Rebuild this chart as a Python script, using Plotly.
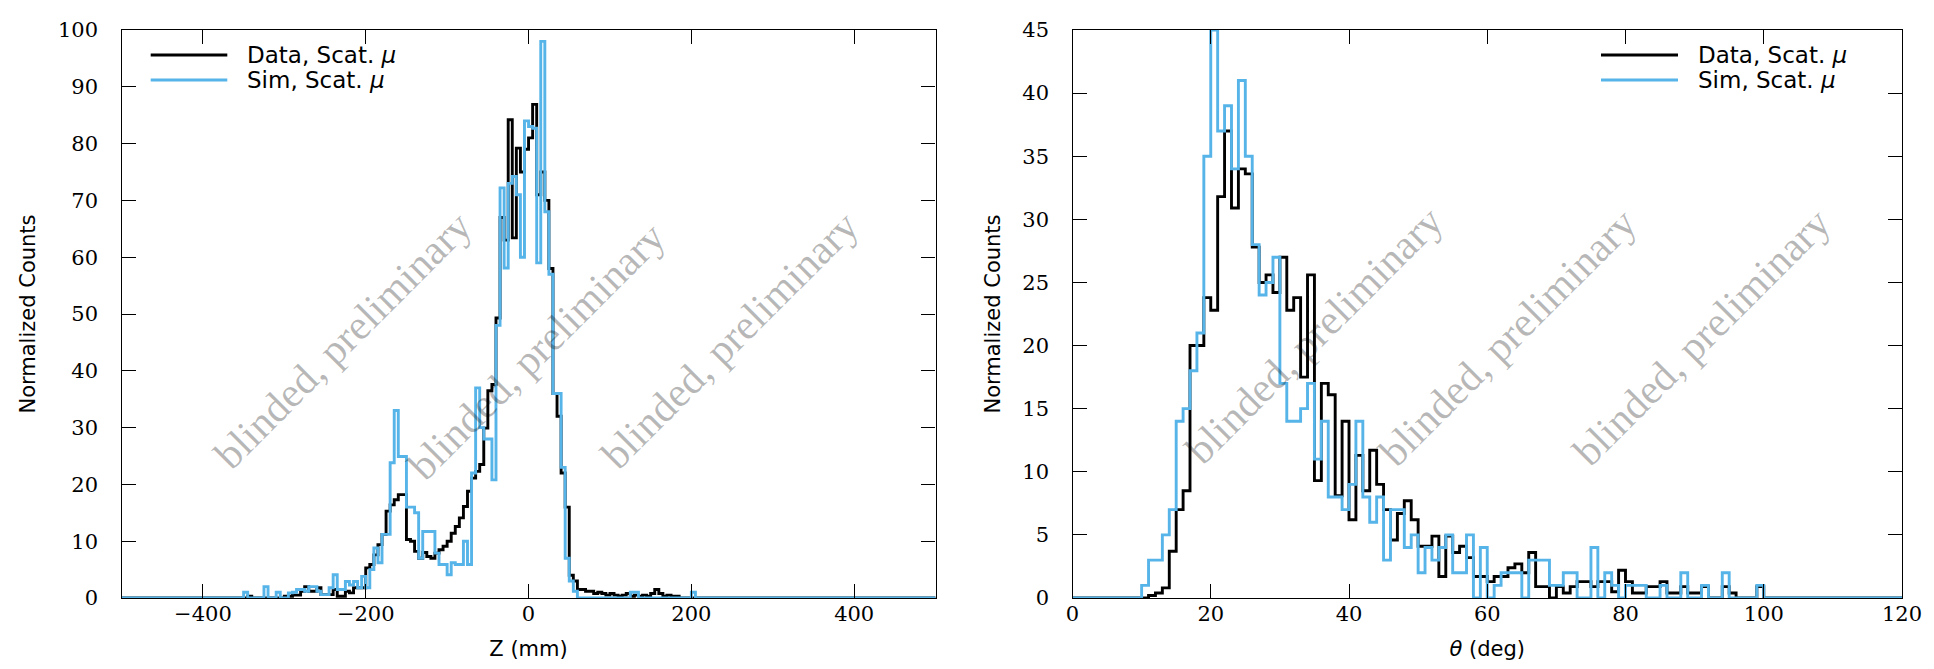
import numpy as np
import plotly.graph_objects as go

# ---------------- data: Z histogram (5 mm bins from -500 to 500) ----------------
Z_LO, Z_HI, Z_BIN = -500, 500, 5
z_first_edge = -350          # lower edge of first listed bin
z_data = [0, 0.3, 0, 0, 0, 0, 0, 0, 0, 0,
          0.3, 0.3, 0.5, 0.5, 1.2, 2.0, 1.2, 1.2, 1.8, 0.6,
          0.6, 0.6, 1.5, 0.3, 0.3, 1.2, 0.9, 1.8, 1.8, 1.8,
          5.3, 5.9, 7.6, 9.4, 11.2, 15.3, 16.4, 17.3, 18.2, 18.2,
          10.3, 10.0, 8.2, 7.0, 8.0, 7.3, 7.0, 7.9, 8.5, 9.1,
          10.0, 11.4, 12.6, 14.1, 16.1, 18.8, 21.1, 22.3, 23.5, 29.9,
          36.5, 37.6, 49.3, 67, 63, 84.2, 63.4, 79.2, 75, 79,
          81, 86.9, 71, 75, 70, 58, 36, 32, 22, 16,
          4, 3, 1.5, 1.5, 1.2, 1.2, 0.8, 1.0, 0.8, 0.5,
          0.8, 0.5, 0.3, 0.5, 0.8, 0.3, 0.5, 0.3, 0.5, 0.3,
          0.8, 1.5, 0.8, 0.3, 0.5, 0.3, 0.3, 0, 0, 0,
          0, 0]
z_sim = [1, 0, 0, 0, 0, 2, 0, 0, 1, 0,
         0, 0.9, 1, 1.5, 1.5, 1.2, 2, 2, 1.2, 0.6,
         0.6, 1.8, 4.1, 1.5, 1.5, 2.9, 2.3, 2.9, 1.8, 3.8,
         1.8, 5, 8.8, 6.2, 11.2, 11.2, 23.8, 33, 24.9, 24.9,
         16, 16, 15, 7, 11.7, 11.7, 11.7, 7.9, 5.9, 5.9,
         4.1, 6.2, 5.9, 5.9, 10, 5.9, 22, 37, 30, 28,
         28, 20.8, 48, 72.2, 58.1, 73, 74.2, 71, 60, 84,
         83, 82.7, 59, 98, 68, 57, 36, 36, 23, 7,
         3, 1.2, 0, 0, 0, 0, 0, 0, 0, 0,
         0, 0, 0, 0, 0, 1, 1, 0, 0, 0,
         0, 0, 0, 0, 0, 0, 0, 0, 0, 0,
         1, 0]

# ---------------- data: theta histogram (1 deg bins from 0 to 120) ----------------
T_LO, T_HI, T_BIN = 0, 120, 1
t_first_edge = 10
t_data = [0, 0.2, 0.4, 0.8, 3.7, 7, 8.5, 20, 20, 23.8,
          22.8, 31.8, 37, 30.9, 34, 33.6, 27.8, 25, 25.6, 24.2,
          27, 22.8, 23.8, 17.5, 25.6, 9.3, 17, 16.1, 8.1, 14,
          6.2, 11.3, 8.5, 11.7, 9, 7, 4.6, 6.7, 7.7, 6.2,
          4.1, 4.1, 4.9, 1.7, 4.9, 3.6, 4.1, 3.2, 1.7, 1.7,
          1.3, 1.7, 1.7, 2.4, 2.7, 2, 3.6, 0.9, 0.9, 0,
          0.9, 0.4, 0.9, 1.3, 1.3, 0.9, 1.3, 1.3, 0.5, 2.2,
          1.3, 0.4, 0.4, 0.9, 0.9, 1.3, 0.4, 0.4, 0.9, 0.4,
          0.4, 0.9, 0, 0, 0.9, 0.4, 0, 0, 0, 0.9]
t_sim = [1, 3, 3, 5, 7, 14, 15, 18, 21, 35,
         45, 37, 39, 34, 41, 35, 28, 24, 25, 27,
         17, 14, 14, 15, 17, 11, 14, 8, 8, 7,
         9, 14, 8, 6, 8, 3, 7, 7, 4, 5,
         2, 4, 3, 4, 5, 2, 2, 5, 0, 4,
         0, 1, 2, 2, 2, 0, 3, 3, 3, 1,
         1, 2, 2, 0, 0, 4, 0, 2, 1, 0,
         1, 1, 1, 0, 0, 1, 0, 0, 2, 0,
         0, 1, 0, 0, 2, 0, 0, 0, 0, 1]

z_ticks = [-400, -200, 0, 200, 400]
z_yticks = list(range(0, 101, 10))
t_ticks = list(range(0, 121, 20))
t_yticks = list(range(0, 46, 5))

legend_labels = ["Data, Scat. <i>μ</i>", "Sim, Scat. <i>μ</i>"]
watermark = "blinded, preliminary"

BLACK = "#000000"
BLUE = "#56B4E9"


def full_hist(first, vals, lo, hi, w):
    n = int(round((hi - lo) / w))
    counts = np.zeros(n)
    i0 = int(round((first - lo) / w))
    counts[i0:i0 + len(vals)] = vals
    edges = lo + w * np.arange(n + 1)
    return edges, np.append(counts, counts[-1])


fig = go.Figure()

ze, zd = full_hist(z_first_edge, z_data, Z_LO, Z_HI, Z_BIN)
_, zs = full_hist(z_first_edge, z_sim, Z_LO, Z_HI, Z_BIN)
te, td = full_hist(t_first_edge, t_data, T_LO, T_HI, T_BIN)
_, ts = full_hist(t_first_edge, t_sim, T_LO, T_HI, T_BIN)

for x, y, c, xa, ya in [(ze, zd, BLACK, "x", "y"), (ze, zs, BLUE, "x", "y"),
                        (te, td, BLACK, "x2", "y2"), (te, ts, BLUE, "x2", "y2")]:
    fig.add_trace(go.Scatter(x=x, y=y, mode="lines", line=dict(color=c, width=2.9, shape="hv"),
                             xaxis=xa, yaxis=ya, showlegend=False, hoverinfo="skip"))

W, H = 1934, 669
tickfont = dict(family="DejaVu Serif", size=21, color="black")
titlefont = dict(family="DejaVu Sans", size=21, color="black")
ydom = [1 - 590 / H, 1 - 22 / H]

common = dict(showline=True, linecolor="black", linewidth=1.4, mirror="ticks", ticks="inside",
              ticklen=14, tickwidth=1.3, tickcolor="black", showgrid=False, zeroline=False,
              tickfont=tickfont, automargin=False)

fig.update_layout(
    width=W, height=H, margin=dict(l=0, r=0, t=0, b=0),
    paper_bgcolor="white", plot_bgcolor="white", showlegend=False,
    xaxis=dict(domain=[113.5 / W, 927.6 / W], range=[Z_LO, Z_HI], tickvals=z_ticks,
               title=dict(text="Z (mm)", font=titlefont, standoff=15), ticklabelstandoff=-3,
               anchor="y", **common),
    yaxis=dict(domain=ydom, range=[0, 100], tickvals=z_yticks,
               title=dict(text="Normalized Counts", font=titlefont, standoff=16), ticklabelstandoff=18,
               anchor="x", **common),
    xaxis2=dict(domain=[1064.5 / W, 1894 / W], range=[T_LO, T_HI], tickvals=t_ticks,
                title=dict(text="<i>θ</i> (deg)", font=titlefont, standoff=15), ticklabelstandoff=-3,
                anchor="y2", **common),
    yaxis2=dict(domain=ydom, range=[0, 45], tickvals=t_yticks,
                title=dict(text="Normalized Counts", font=titlefont, standoff=16), ticklabelstandoff=18,
                anchor="x2", **common),
)

# watermarks
wm_font = dict(family="Liberation Serif", size=42, color="rgba(0,0,0,0.28)")
for xr, yr, pts in [("x", "y", [(-228, 45.5), (10, 43.5), (247, 45.5)]),
                    ("x2", "y2", [(35, 20.8), (63, 20.7), (91, 20.7)])]:
    for (px, py) in pts:
        fig.add_annotation(x=px, y=py, xref=xr, yref=yr, text=watermark, showarrow=False,
                           textangle=-45, font=wm_font, xanchor="center", yanchor="middle")

# manual legends
leg_font = dict(family="DejaVu Sans", size=23, color="black")
for (x0, x1, xt) in [(142.7, 219.3, 238), (1593, 1670, 1689)]:
    for i, (lab, col) in enumerate(zip(legend_labels, [BLACK, BLUE])):
        yy = 1 - (47 + 25 * i) / H
        fig.add_shape(type="line", xref="paper", yref="paper", x0=x0 / W, x1=x1 / W, y0=yy, y1=yy,
                      line=dict(color=col, width=3))
        fig.add_annotation(x=xt / W, y=yy, xref="paper", yref="paper", text=lab, showarrow=False,
                           xanchor="left", yanchor="middle", font=leg_font, borderpad=0)

fig.write_html("out.html")
